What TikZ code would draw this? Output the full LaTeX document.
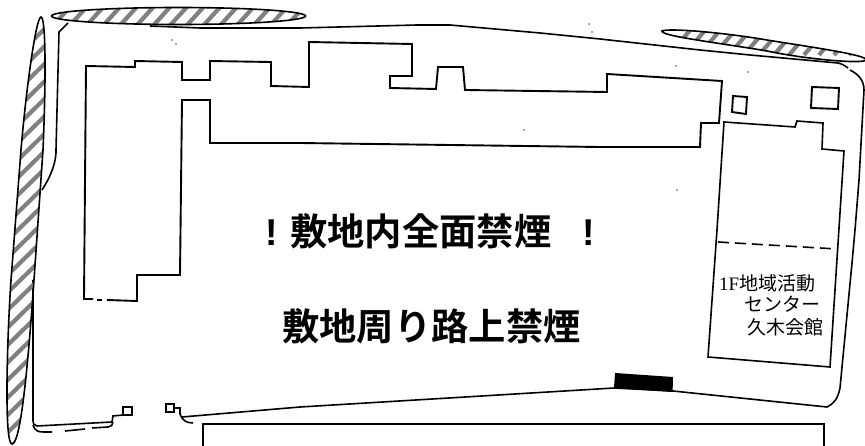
\documentclass[tikz,border=0pt]{standalone}
\usepackage{fontspec}
\newfontfamily\cjk{Noto Sans CJK JP}
\newfontfamily\cjkb{Noto Sans CJK JP Bold}
\newfontfamily\excl{Liberation Sans Bold}
\newfontfamily\latinserif{Liberation Serif}
\tikzset{
  x=1pt,y=-1pt,
  plan/.style={draw=black,line width=1.9pt,line join=miter},
  thin plan/.style={draw=black,line width=1.6pt},
  zone/.style={draw=black,line width=1.6pt},
  stripe/.style={draw=black!50,line width=4.2pt},
  title/.style={font=\cjkb\fontsize{37.3}{39}\selectfont,anchor=base west,inner sep=0pt},
  label/.style={font=\cjk\fontsize{19}{21}\selectfont,anchor=base west,inner sep=0pt},
  speck/.style={fill=black!70,draw=none}
}
\begin{document}
\begin{tikzpicture}
\useasboundingbox (0,0) rectangle (865,446);
% site outline
\draw[thin plan] (68,23) -- (59,32) -- (56,150) -- (56,153) .. controls (55,167) and (49,179) .. (42,190);
\draw[thin plan] (33,280) -- (33,420) .. controls (33,424) and (34,425) .. (37,426) -- (112,422) -- (113,416) -- (123,415);
\draw[thin plan] (33,425) .. controls (35,431) and (38,432) .. (44,432) -- (52,432);
\draw[thin plan] (65,431) -- (85,429);
\draw[thin plan] (92,428) -- (108,427) .. controls (111,427) and (113,425) .. (113,422);
\draw[thin plan] (123,407) rectangle (132,415);
\draw[thin plan] (166,404) rectangle (174,412);
\draw[thin plan] (174,408) -- (180,408) -- (180,414) .. controls (182,420) and (186,423) .. (193,423);
\draw[thin plan] (182,417) -- (300,407) -- (614,388) -- (673,391) -- (827,407) .. controls (834,404) and (838,398) .. (840,388) -- (852,263) -- (855,230) -- (859,180) -- (864,90) .. controls (864,80) and (858,74) .. (850,70);
\draw[thin plan] (848,68) .. controls (844,65) and (842,64) .. (838,63) -- (750,55) -- (700,50) -- (600,39) -- (540,33) -- (450,25) -- (417,25) -- (300,28) -- (200,28) -- (150,26);
% main building
\draw[plan] (107,300) -- (137,301) -- (137,275) -- (180,275) -- (182,100) -- (210,100) -- (210,143) -- (300,143) -- (600,147) -- (700,147) -- (701,123) -- (719,123) -- (722,81) -- (607,74) -- (607,92) -- (465,90) -- (463,67) -- (438,67) -- (436,89) -- (390,88) -- (390,76) -- (412,76) -- (412,44) -- (309,42) -- (309,87) -- (271,86) -- (271,62) -- (210,61) -- (210,80) -- (182,80) -- (182,62) -- (135,61) -- (135,67) -- (86,66) -- (84,299) -- (93,299);
\draw[plan] (97,300) -- (102,300);
% small buildings
\draw[plan] (733,96) -- (747,97) -- (746,114) -- (732,112) -- cycle;
\draw[plan] (812,87) -- (839,88) -- (838,109) -- (811,108) -- cycle;
% right building
\draw[thin plan] (717,230) -- (724,122) -- (795,127) -- (797,121) -- (823,123) -- (822,149) -- (844,151) -- (830,367) -- (708,357) -- cycle;
\draw[thin plan,dash pattern=on 11pt off 6pt] (718,242) -- (837,249);
% black entrance
\fill[black] (615,373) -- (673,377) -- (672.6,392) -- (614,388) -- cycle;
% hatched zones
\begin{scope}
  \clip (178.5,16) ellipse [x radius=127, y radius=8.5];
  \fill[white] (178.5,16) ellipse [x radius=127, y radius=8.5];
  \foreach \i in {0,...,16} \draw[stripe] ({49+16.7*\i},30) -- ({76.3+16.7*\i},0);
\end{scope}
\draw[zone] (178.5,16) ellipse [x radius=127, y radius=8.5];
\begin{scope}
  \clip (41,17) .. controls (36,17) and (26,90) .. (21,150) -- (11,280) .. controls (7,340) and (4,444) .. (12,444) .. controls (20,444) and (27,380) .. (34,280) -- (43,150) .. controls (46,80) and (46,17) .. (41,17) -- cycle;
  \foreach \i in {0,...,26} \draw[stripe] (0,{20+17.5*\i}) -- (50,{-29+17.5*\i});
\end{scope}
\draw[zone] (41,17) .. controls (36,17) and (26,90) .. (21,150) -- (11,280) .. controls (7,340) and (4,444) .. (12,444) .. controls (20,444) and (27,380) .. (34,280) -- (43,150) .. controls (46,80) and (46,17) .. (41,17) -- cycle;
\begin{scope}
  \clip (662,31) .. controls (668,28) and (720,32) .. (767,40) .. controls (810,47) and (868,55) .. (866,60) .. controls (864,64) and (810,60) .. (767,51) .. controls (720,43) and (660,36) .. (662,31) -- cycle;
  \foreach \i in {0,...,13} \draw[stripe] ({669+15*\i},55) -- ({692+15*\i},28);
\end{scope}
\draw[zone] (662,31) .. controls (668,28) and (720,32) .. (767,40) .. controls (810,47) and (868,55) .. (866,60) .. controls (864,64) and (810,60) .. (767,51) .. controls (720,43) and (660,36) .. (662,31) -- cycle;
% notice box
\draw[line width=1.9pt,fill=white] (203,460) -- (203,424) -- (824,424) -- (824,460);
% texts
\node[title] (t1) at (265.3,246) {{\excl !}\hspace{12.3pt}敷地内全面禁煙\hspace{31pt}{\excl !}};
\node[title] (t2) at (282,341) {敷地周り路上禁煙};
\node[label] (l1) at (719,291) {{\latinserif 1F}地域活動};
\node[label] (l2) at (744,312) {センター};
\node[label] (l3) at (747,335) {久木会館};
% specks
\foreach \p in {(172,40),(176,44),(589,24),(592,32),(524,130),(748,72),(676,66),(677,190)}
  \fill[speck] \p circle (0.9);
\end{tikzpicture}
\end{document}
